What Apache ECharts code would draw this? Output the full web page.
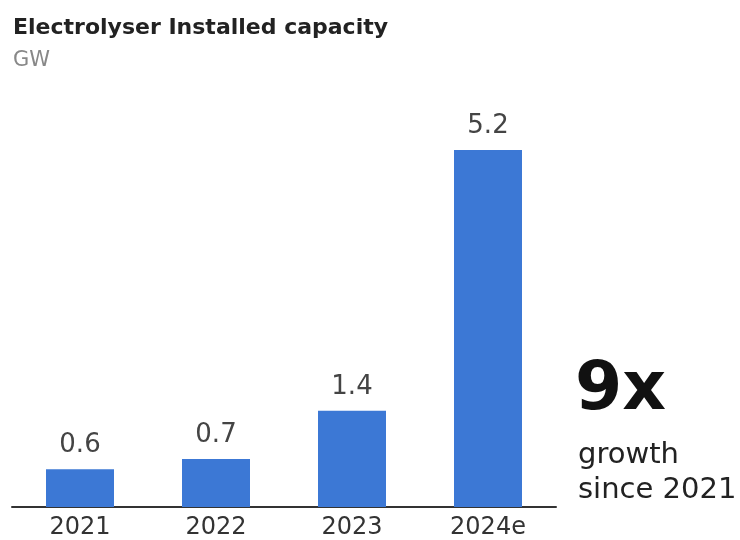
<!DOCTYPE html>
<html>
<head>
<meta charset="utf-8">
<script src="https://cdn.jsdelivr.net/npm/echarts@6/dist/echarts.min.js"></script>
<style>
  html, body { margin: 0; padding: 0; background: #fff; }
  #chart { width: 740px; height: 540px; }
</style>
</head>
<body>
<div id="chart"></div>
<script>
const years = ['2021', '2022', '2023', '2024e']
// 2021 bar is drawn a little short of 0.6 in the picture, label still reads 0.6
const capacity = [0.55, 0.7, 1.4, 5.2]
const growthText = ['9x', 'growth', 'since 2021']

const chart = echarts.init(document.getElementById('chart'))
const font = '"DejaVu Sans", sans-serif'

const option = {
  animation: false,
  grid: { left: 12, right: 184, top: 95, bottom: 33 },
  xAxis: {
    type: 'category',
    data: years,
    axisLine: { lineStyle: { color: '#333', width: 2 } },
    axisTick: { show: false },
    axisLabel: { color: '#333', fontSize: 24, fontFamily: font, margin: 9 }
  },
  yAxis: {
    type: 'value',
    min: 0,
    max: 6,
    show: false
  },
  series: [{
    type: 'bar',
    data: capacity,
    barWidth: 68,
    itemStyle: { color: '#3C78D5' },
    label: {
      show: true,
      position: 'top',
      distance: 11,
      color: '#444',
      fontSize: 26,
      fontFamily: font,
      formatter: p => p.value.toFixed(1)
    }
  }],
  graphic: [
    {
      type: 'text', x: 13, y: 28,
      style: {
        text: 'Electrolyser Installed capacity', font: 'bold 22px ' + font,
        fill: '#222', verticalAlign: 'middle'
      }
    },
    {
      type: 'text', x: 13, y: 61,
      style: { text: 'GW', font: '21px ' + font, fill: '#888', verticalAlign: 'middle' }
    },
    {
      type: 'text', x: 575, y: 391,
      style: { text: growthText[0], font: 'bold 68px ' + font, fill: '#111', verticalAlign: 'middle' }
    },
    {
      type: 'text', x: 578, y: 455,
      style: { text: growthText[1], font: '29px ' + font, fill: '#222', verticalAlign: 'middle' }
    },
    {
      type: 'text', x: 578, y: 490,
      style: { text: growthText[2], font: '29px ' + font, fill: '#222', verticalAlign: 'middle' }
    }
  ]
}

chart.setOption(option)
window.addEventListener('resize', () => chart.resize())
</script>
</body>
</html>
